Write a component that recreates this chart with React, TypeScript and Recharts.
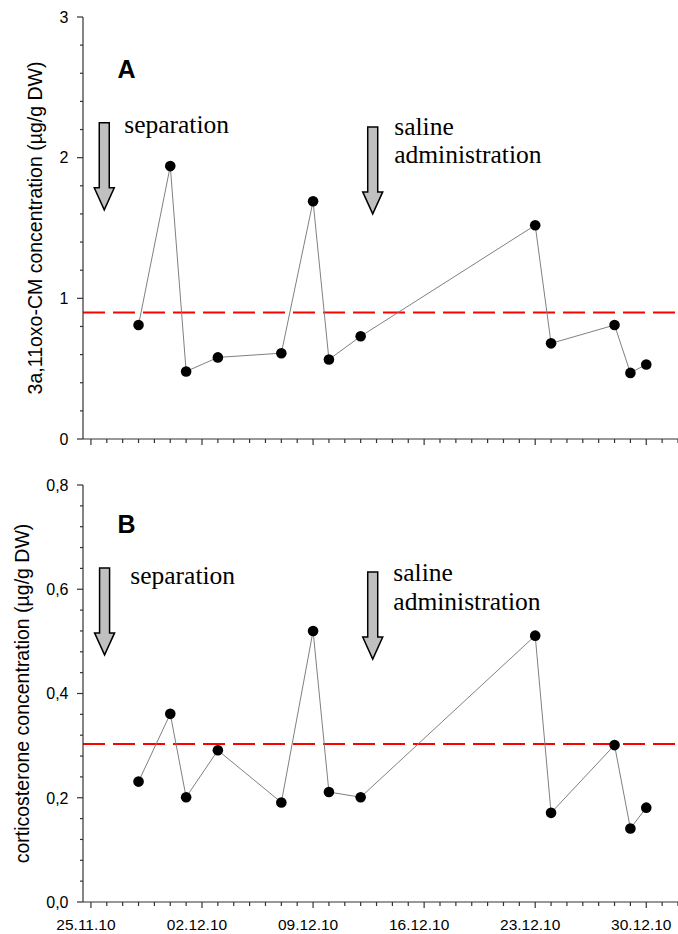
import { Line, LineChart, ReferenceDot, ReferenceLine, XAxis, YAxis } from "recharts";

// sampling days, counted from 25.11.10
const DAYS = [3, 5, 6, 8, 12, 14, 15, 17, 28, 29, 33, 34, 35];
const OXO_CM = [0.81, 1.94, 0.48, 0.58, 0.61, 1.69, 0.565, 0.73, 1.52, 0.68, 0.81, 0.47, 0.53];
const CORTICOSTERONE = [0.231, 0.361, 0.201, 0.291, 0.191, 0.52, 0.211, 0.201, 0.511, 0.171, 0.301, 0.141, 0.181];
const OXO_CM_BASELINE = 0.9;
const CORTICOSTERONE_BASELINE = 0.303;

const WEEK_LABELS = ["25.11.10", "02.12.10", "09.12.10", "16.12.10", "23.12.10", "30.12.10"];
const Y_MAJOR_A = [0, 1, 2, 3];
const Y_MAJOR_B = [0, 0.2, 0.4, 0.6, 0.8];

// one tick per day, five minor steps per major step on y
const X_TICKS = Array.from({ length: 38 }, (_, i) => i);
const minorSteps = (majors: number[]) => {
  const out: number[] = [];
  for (let i = 0; i < majors.length - 1; i++) {
    const step = (majors[i + 1] - majors[i]) / 5;
    for (let k = 0; k < 5; k++) out.push(+(majors[i] + k * step).toFixed(4));
  }
  out.push(majors[majors.length - 1]);
  return out;
};
const Y_TICKS_A = minorSteps(Y_MAJOR_A);
const Y_TICKS_B = minorSteps(Y_MAJOR_B);

const dataA = DAYS.map((day, i) => ({ day, value: OXO_CM[i] }));
const dataB = DAYS.map((day, i) => ({ day, value: CORTICOSTERONE[i] }));

const AXIS = "#333";
const SANS = "'Liberation Sans', Arial, sans-serif";
const SERIF = "'Liberation Serif', 'Times New Roman', serif";

function DayTick({ x, y, payload, showLabels }: any) {
  const day = payload.value;
  const major = day % 7 === 0;
  const label = WEEK_LABELS[day / 7];
  return (
    <g>
      <line x1={x} x2={x} y1={y} y2={y + (major ? 6 : 4)} stroke={AXIS} strokeWidth={1.2} />
      {showLabels && major && label && (
        <text x={x - 5} y={y + 28} textAnchor="middle" style={{ fontFamily: SANS, fontSize: 15.5 }} fill="#000">
          {label}
        </text>
      )}
    </g>
  );
}

function ValueTick({ x, y, payload, majors, format }: any) {
  const v = payload.value;
  const major = majors.some((m: number) => Math.abs(m - v) < 1e-6);
  return (
    <g>
      <line x1={x - (major ? 6 : 3)} x2={x} y1={y} y2={y} stroke={AXIS} strokeWidth={1.2} />
      {major && (
        <text x={x - 14.5} y={y} dy="0.36em" textAnchor="end" style={{ fontFamily: SANS, fontSize: 16 }} fill="#000">
          {format(v)}
        </text>
      )}
    </g>
  );
}

function AxisTitle({ viewBox, value, cx }: any) {
  const cy = viewBox.y + viewBox.height / 2;
  return (
    <text
      transform={`translate(${cx},${cy}) rotate(-90)`}
      textAnchor="middle"
      dominantBaseline="central"
      style={{ fontFamily: SANS, fontSize: 19.5 }}
      fill="#000"
    >
      {value}
    </text>
  );
}

// down arrow with its tip at (cx, cy) plus the note beside it
function ArrowNote({ cx, cy, lines, dx, dy }: any) {
  const path = `M${cx - 5},${cy - 87} L${cx + 5},${cy - 87} L${cx + 5},${cy - 22} L${cx + 10},${cy - 22} L${cx},${cy} L${cx - 10},${cy - 22} L${cx - 5},${cy - 22} Z`;
  return (
    <g>
      <path d={path} fill="#c0c0c0" stroke="#000" strokeWidth={1.5} strokeLinejoin="miter" />
      {lines.map((t: string, i: number) => (
        <text
          key={t}
          x={cx + dx}
          y={cy + dy + i * 28.5}
          style={{ fontFamily: SERIF, fontSize: 25.5 }}
          fill="#000"
        >
          {t}
        </text>
      ))}
    </g>
  );
}

function PanelLetter({ cx, cy, letter }: any) {
  return (
    <text x={cx} y={cy} style={{ fontFamily: SANS, fontWeight: "bold", fontSize: 25 }} fill="#000">
      {letter}
    </text>
  );
}

export default function App() {
  return (
    <div style={{ position: "absolute", left: 0, top: 0, width: 678, height: 934, background: "#fff" }}>
      <LineChart width={678} height={451} data={dataA} margin={{ top: 17, right: 0, bottom: 0, left: 0 }}>
        <XAxis
          dataKey="day"
          type="number"
          domain={[-0.5, 37]}
          ticks={X_TICKS}
          interval={0}
          height={12}
          tickSize={0}
          tickMargin={0}
          tickLine={false}
          axisLine={{ stroke: AXIS, strokeWidth: 1.2 }}
          tick={<DayTick showLabels={false} />}
        />
        <YAxis
          type="number"
          domain={[0, 3]}
          ticks={Y_TICKS_A}
          interval={0}
          width={83}
          tickSize={0}
          tickMargin={0}
          tickLine={false}
          axisLine={{ stroke: AXIS, strokeWidth: 1.2 }}
          tick={<ValueTick majors={Y_MAJOR_A} format={(v: number) => String(v)} />}
          label={<AxisTitle cx={35} value="3a,11oxo-CM concentration (µg/g DW)" />}
        />
        <ReferenceLine y={OXO_CM_BASELINE} stroke="#ff0000" strokeWidth={2} strokeDasharray="22 8" />
        <Line
          dataKey="value"
          stroke="#808080"
          strokeWidth={1}
          dot={{ r: 5.3, fill: "#000", stroke: "none" }}
          isAnimationActive={false}
        />
        <ReferenceDot x={1.68} y={2.567} shape={<PanelLetter letter="A" />} />
        <ReferenceDot x={0.84} y={1.629} shape={<ArrowNote lines={["separation"]} dx={20} dy={-77} />} />
        <ReferenceDot
          x={17.76}
          y={1.6}
          shape={<ArrowNote lines={["saline", "administration"]} dx={21.5} dy={-79} />}
        />
      </LineChart>

      <div style={{ position: "absolute", left: 0, top: 460 }}>
        <LineChart width={678} height={474} data={dataB} margin={{ top: 25, right: 0, bottom: 0, left: 0 }}>
          <XAxis
            dataKey="day"
            type="number"
            domain={[-0.5, 37]}
            ticks={X_TICKS}
            interval={0}
            height={32}
            tickSize={0}
            tickMargin={0}
            tickLine={false}
            axisLine={{ stroke: AXIS, strokeWidth: 1.2 }}
            tick={<DayTick showLabels />}
          />
          <YAxis
            type="number"
            domain={[0, 0.8]}
            ticks={Y_TICKS_B}
            interval={0}
            width={83}
            tickSize={0}
            tickMargin={0}
            tickLine={false}
            axisLine={{ stroke: AXIS, strokeWidth: 1.2 }}
            tick={<ValueTick majors={Y_MAJOR_B} format={(v: number) => v.toFixed(1).replace(".", ",")} />}
            label={<AxisTitle cx={21.7} value="corticosterone concentration (µg/g DW)" />}
          />
          <ReferenceLine y={CORTICOSTERONE_BASELINE} stroke="#ff0000" strokeWidth={2} strokeDasharray="22 8" />
          <Line
            dataKey="value"
            stroke="#808080"
            strokeWidth={1}
            dot={{ r: 5.3, fill: "#000", stroke: "none" }}
            isAnimationActive={false}
          />
          <ReferenceDot x={1.68} y={0.708} shape={<PanelLetter letter="B" />} />
          <ReferenceDot x={0.86} y={0.474} shape={<ArrowNote lines={["separation"]} dx={25.7} dy={-71} />} />
          <ReferenceDot
            x={17.76}
            y={0.466}
            shape={<ArrowNote lines={["saline", "administration"]} dx={20.6} dy={-77.6} />}
          />
        </LineChart>
      </div>
    </div>
  );
}
